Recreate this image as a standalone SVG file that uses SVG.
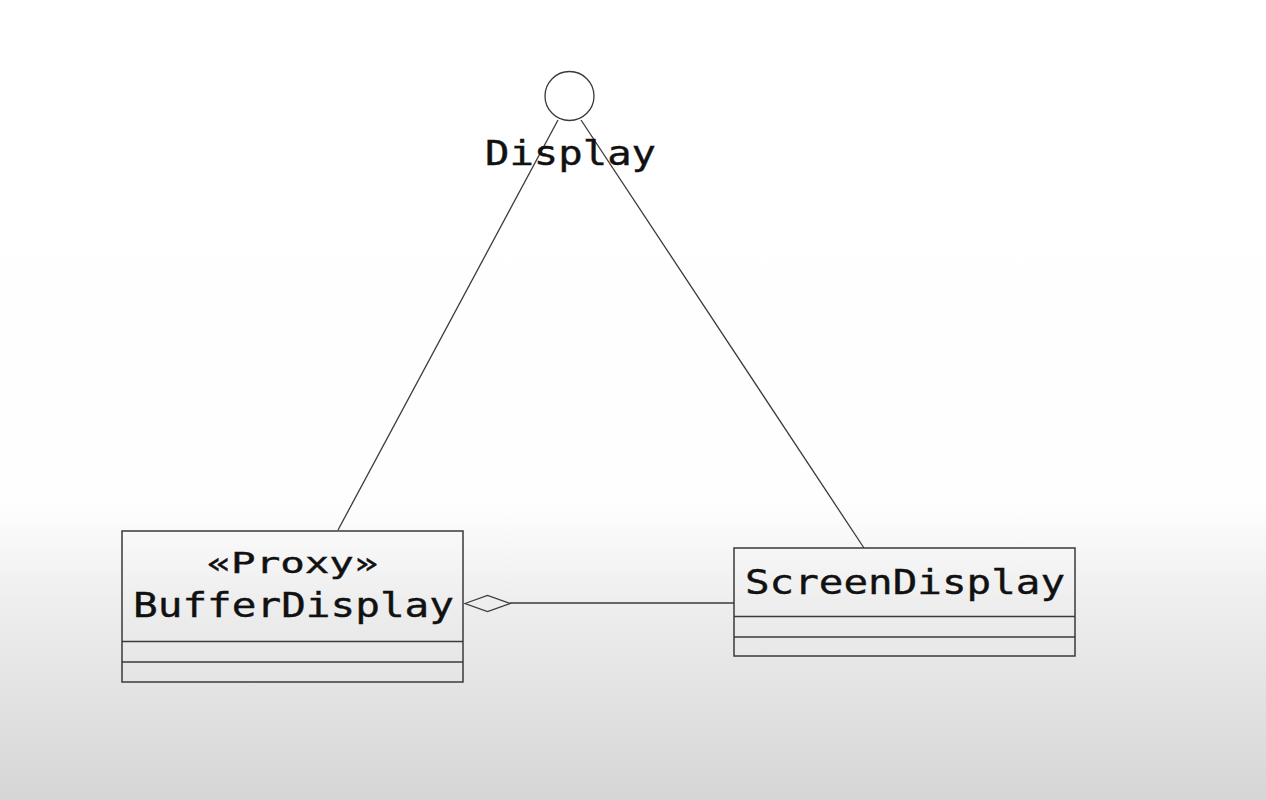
<svg xmlns="http://www.w3.org/2000/svg" width="1266" height="800" viewBox="0 0 1266 800">
<defs>
<linearGradient id="bg" x1="0" y1="0" x2="0" y2="800" gradientUnits="userSpaceOnUse">
<stop offset="0" stop-color="#ffffff"/>
<stop offset="0.63" stop-color="#fefefe"/>
<stop offset="0.75" stop-color="#eeeeee"/>
<stop offset="1" stop-color="#d6d6d6"/>
</linearGradient>
<style>
.ln{stroke:#3a3a3a;stroke-width:1.3;fill:none}
.box{stroke:#3a3a3a;stroke-width:1.5;fill:none}
.t{font-family:"DejaVu Sans Mono","Liberation Mono",monospace;fill:#111;stroke:#111;stroke-width:0.4}
</style>
</defs>
<rect x="0" y="0" width="1266" height="800" fill="url(#bg)"/>
<g id="connectors">
<line class="ln" x1="558" y1="120" x2="338" y2="530"/>
<line class="ln" x1="581" y1="120" x2="864" y2="548"/>
<line class="ln" x1="510" y1="603" x2="734" y2="603"/>
<polygon class="ln" points="465,603.5 487.5,595.5 510,603.5 487.5,611.5" fill="#f8f8f8"/>
</g>
<g id="display">
<circle class="ln" cx="569.5" cy="96" r="24.5" fill="#ffffff"/>
<text class="t" x="485" y="165" font-size="33" textLength="171" lengthAdjust="spacingAndGlyphs">Display</text>
</g>
<g id="bufferdisplay">
<rect class="box" x="122" y="531" width="341" height="151"/>
<line class="box" x1="122" y1="641.5" x2="463" y2="641.5"/>
<line class="box" x1="122" y1="662" x2="463" y2="662"/>
<text class="t" x="292.5" y="573" font-size="28" text-anchor="middle" fill="#333" stroke="none" textLength="172" lengthAdjust="spacingAndGlyphs">«Proxy»</text>
<text class="t" x="133" y="617" font-size="34" textLength="321" lengthAdjust="spacingAndGlyphs">BufferDisplay</text>
</g>
<g id="screendisplay">
<rect class="box" x="734" y="548" width="341" height="108"/>
<line class="box" x1="734" y1="616.5" x2="1075" y2="616.5"/>
<line class="box" x1="734" y1="637" x2="1075" y2="637"/>
<text class="t" x="745" y="594" font-size="34" textLength="320" lengthAdjust="spacingAndGlyphs">ScreenDisplay</text>
</g>
</svg>
